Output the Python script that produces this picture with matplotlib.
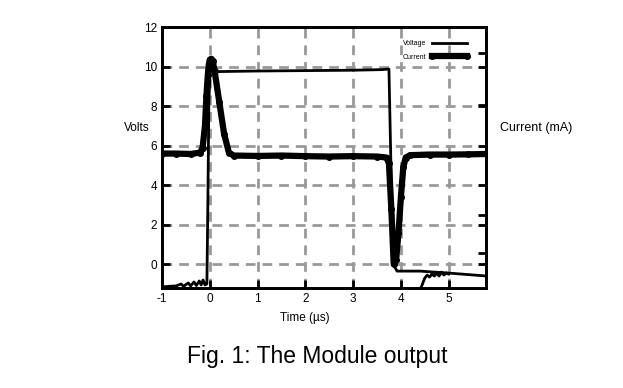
import numpy as np
import matplotlib
matplotlib.use('Agg')
import matplotlib.pyplot as plt

plt.rcParams['font.family'] = ['Liberation Sans', 'DejaVu Sans']
plt.rcParams['axes.unicode_minus'] = False

# Voltage trace (NaN splits the separate noisy piece near the bottom)
volt_t = [-1.0, -0.85, -0.7, -0.6, -0.55, -0.45, -0.4, -0.33, -0.28, -0.22, -0.18, -0.14, -0.1,
          -0.06, -0.04, -0.02, 0.0, 0.03, 0.06,
          0.1, 0.12, 0.16, 1.0, 2.0, 3.0, 3.6, 3.75, 3.8, 3.86, 3.92, 4.4, 5.0, 5.8,
          np.nan, 4.42, 4.5, 4.55, 4.6, 4.65, 4.7, 4.75, 4.8, 4.85, 4.9, 4.95, 5.0]
volt_v = [-1.15, -1.12, -1.1, -1.0, -1.12, -0.95, -1.1, -0.9, -1.08, -0.85, -1.05, -0.8, -1.05,
          -1.0, 3.0, 8.0, 9.5, 10.0, 9.9,
          9.7, 9.85, 9.75, 9.78, 9.8, 9.82, 9.85, 9.88, 4.0, -0.1, -0.35, -0.35, -0.45, -0.6,
          np.nan, -1.2, -0.7, -0.55, -0.65, -0.5, -0.6, -0.45, -0.6, -0.4, -0.55, -0.45, -0.5]

# Current trace
curr_t = [-1.0, -0.7, -0.4, -0.2, -0.15, -0.1, -0.07, -0.04, -0.02, 0.0, 0.03, 0.06, 0.1,
          0.2, 0.3, 0.4, 0.5, 1.0, 1.5, 2.0, 2.5, 3.0, 3.5, 3.7, 3.75, 3.8, 3.85,
          3.9, 3.95, 4.0, 4.05, 4.1, 4.2, 4.6, 5.0, 5.4, 5.8]
curr_v = [5.6, 5.6, 5.58, 5.65, 5.9, 7.0, 8.5, 9.6, 10.1, 10.35, 10.4, 10.3, 9.8,
          8.2, 6.6, 5.65, 5.5, 5.48, 5.5, 5.47, 5.45, 5.47, 5.45, 5.4, 5.1, 2.8, 0.0,
          0.2, 1.6, 3.4, 4.9, 5.4, 5.52, 5.55, 5.55, 5.56, 5.58]

x_ticks = [-1, 0, 1, 2, 3, 4, 5]
y_ticks = [0, 2, 4, 6, 8, 10, 12]
right_ticks = [0, 0.55, 2, 2.5, 4, 6, 8, 8.05, 10, 10.7]

fig = plt.figure(figsize=(6.23, 3.88), dpi=100)
ax = fig.add_axes([0.26, 0.258, 0.52, 0.672])

ax.plot(volt_t, volt_v, color='black', lw=2.0, label='Voltage')
ax.plot(curr_t, curr_v, color='black', lw=4.5, marker='o', markersize=4, label='Current')

ax.set_xlim(-1.0, 5.78)
ax.set_ylim(-1.2, 12)
ax.set_xticks(x_ticks)
ax.set_yticks(y_ticks)
ax.grid(True, color='#999999', linestyle=(0, (3.5, 2.5)), linewidth=2)
ax.tick_params(direction='in', length=6, width=2, labelsize=8.5, right=False)
for s in ax.spines.values():
    s.set_linewidth(2)

ax2 = ax.twinx()
ax2.set_ylim(-1.2, 12)
ax2.set_yticks(right_ticks)
ax2.tick_params(direction='in', length=6, width=2, labelright=False)
for s in ax2.spines.values():
    s.set_linewidth(2)

leg = ax.legend(loc='upper right', bbox_to_anchor=(0.955, 0.96), frameon=False, fontsize=5,
                markerfirst=False, handlelength=5.5, numpoints=2, labelspacing=0.9,
                borderaxespad=0, handletextpad=0.6)

fig.text(0.22, 0.67, 'Volts', fontsize=8.5, ha='center', va='center')
fig.text(0.86, 0.67, 'Current (mA)', fontsize=9, ha='center', va='center')
fig.text(0.49, 0.18, 'Time (\u00b5s)', fontsize=8.5, ha='center', va='center')
fig.text(0.509, 0.08, 'Fig. 1: The Module output', fontsize=16.5, ha='center', va='center')

plt.savefig('out.png', dpi=100)
